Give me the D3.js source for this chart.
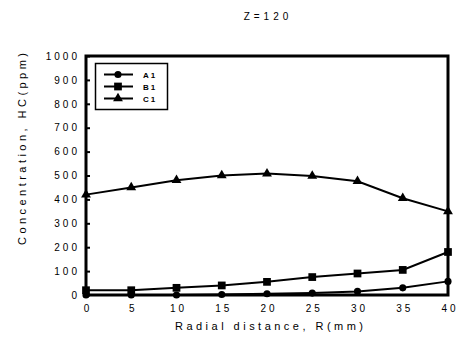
<!DOCTYPE html>
<html>
<head>
<meta charset="utf-8">
<script src="https://cdn.jsdelivr.net/npm/d3@7"></script>
<style>
  html, body { margin: 0; padding: 0; background: #fff; }
  svg { display: block; font-family: "Liberation Sans", Arial, sans-serif; }
</style>
</head>
<body>
<svg id="chart" width="459" height="339"></svg>
<script>
// Radial positions (mm) and HC concentrations (ppm) at Z = 120
const radius = [0, 5, 10, 15, 20, 25, 30, 35, 40];
const seriesA1 = [0, 0, 0, 2, 5, 8, 15, 30, 57];
const seriesB1 = [20, 20, 30, 40, 55, 75, 90, 105, 180];
const seriesC1 = [420, 450, 480, 500, 508, 498, 476, 405, 350];
const seriesNames = ["A1", "B1", "C1"];
const markerKinds = ["circle", "square", "triangle"];
const yTicks = [0, 100, 200, 300, 400, 500, 600, 700, 800, 900, 1000];
const xTicks = [0, 5, 10, 15, 20, 25, 30, 35, 40];

const svg = d3.select("#chart");
const plotLeft = 86, plotRight = 448, plotTop = 56, plotBottom = 295;

const x = d3.scaleLinear().domain([0, 40]).range([plotLeft, plotRight]);
const y = d3.scaleLinear().domain([0, 1000]).range([plotBottom, plotTop]);

const symbolFor = {
  circle: d3.symbol().type(d3.symbolCircle).size(40),
  square: d3.symbol().type(d3.symbolSquare).size(60),
  triangle: d3.symbol().type(d3.symbolTriangle).size(42)
};

// Title
svg.append("text")
  .attr("x", 268).attr("y", 20)
  .attr("text-anchor", "middle")
  .attr("font-size", 10)
  .attr("letter-spacing", "4px")
  .text("Z=120");

// Y axis ticks (inward) and labels
const yAxis = d3.axisLeft(y).tickValues(yTicks).tickFormat(d3.format("d"))
  .tickSizeInner(-4).tickSizeOuter(0).tickPadding(9);
const gy = svg.append("g").attr("transform", `translate(${plotLeft},0)`).call(yAxis);
gy.select(".domain").remove();
gy.selectAll(".tick line").attr("stroke", "#000").attr("stroke-width", 2);
gy.selectAll(".tick text")
  .attr("font-size", 10)
  .attr("font-family", "Liberation Sans, Arial, sans-serif")
  .attr("letter-spacing", "3px")
  .attr("dx", 3)
  .attr("fill", "#000");

// X axis labels (no visible ticks)
const xAxis = d3.axisBottom(x).tickValues(xTicks).tickFormat(d3.format("d"))
  .tickSize(0).tickPadding(10);
const gx = svg.append("g").attr("transform", `translate(0,${plotBottom})`).call(xAxis);
gx.select(".domain").remove();
gx.selectAll(".tick text")
  .attr("font-size", 10)
  .attr("font-family", "Liberation Sans, Arial, sans-serif")
  .attr("letter-spacing", "3px")
  .attr("dx", 1.5)
  .attr("fill", "#000");

// Axis titles
svg.append("text")
  .attr("x", 269).attr("y", 330)
  .attr("text-anchor", "middle")
  .attr("font-size", 11)
  .attr("textLength", 188)
  .attr("lengthAdjust", "spacing")
  .text("Radial distance, R(mm)");

svg.append("text")
  .attr("transform", "translate(26,149) rotate(-90)")
  .attr("text-anchor", "middle")
  .attr("font-size", 11)
  .attr("textLength", 192)
  .attr("lengthAdjust", "spacing")
  .text("Concentration, HC(ppm)");

// Series lines and markers
const allSeries = [seriesA1, seriesB1, seriesC1];
const line = d3.line().x((d, i) => x(radius[i])).y(d => y(d));

allSeries.forEach((vals, k) => {
  svg.append("path")
    .attr("d", line(vals))
    .attr("fill", "none")
    .attr("stroke", "#000")
    .attr("stroke-width", 2);
  svg.append("g").selectAll("path")
    .data(vals)
    .join("path")
    .attr("transform", (d, i) => `translate(${x(radius[i])},${y(d)})`)
    .attr("d", symbolFor[markerKinds[k]]())
    .attr("fill", "#000");
});

// Plot frame
svg.append("rect")
  .attr("x", plotLeft).attr("y", plotTop)
  .attr("width", plotRight - plotLeft).attr("height", plotBottom - plotTop)
  .attr("fill", "none")
  .attr("stroke", "#000")
  .attr("stroke-width", 3);

// Legend
const legend = svg.append("g");
legend.append("rect")
  .attr("x", 95.5).attr("y", 63.5)
  .attr("width", 72).attr("height", 46)
  .attr("fill", "#fff")
  .attr("stroke", "#000")
  .attr("stroke-width", 1.5);
const legendY = [74.5, 86.5, 98.5];
seriesNames.forEach((name, k) => {
  legend.append("line")
    .attr("x1", 104).attr("x2", 133)
    .attr("y1", legendY[k]).attr("y2", legendY[k])
    .attr("stroke", "#000").attr("stroke-width", 2);
  legend.append("path")
    .attr("transform", `translate(118,${legendY[k]})`)
    .attr("d", symbolFor[markerKinds[k]]())
    .attr("fill", "#000");
  legend.append("text")
    .attr("x", 143).attr("y", legendY[k] + 3)
    .attr("font-size", 8)
    .attr("font-weight", "bold")
    .attr("letter-spacing", "2px")
    .text(name);
});
</script>
</body>
</html>
